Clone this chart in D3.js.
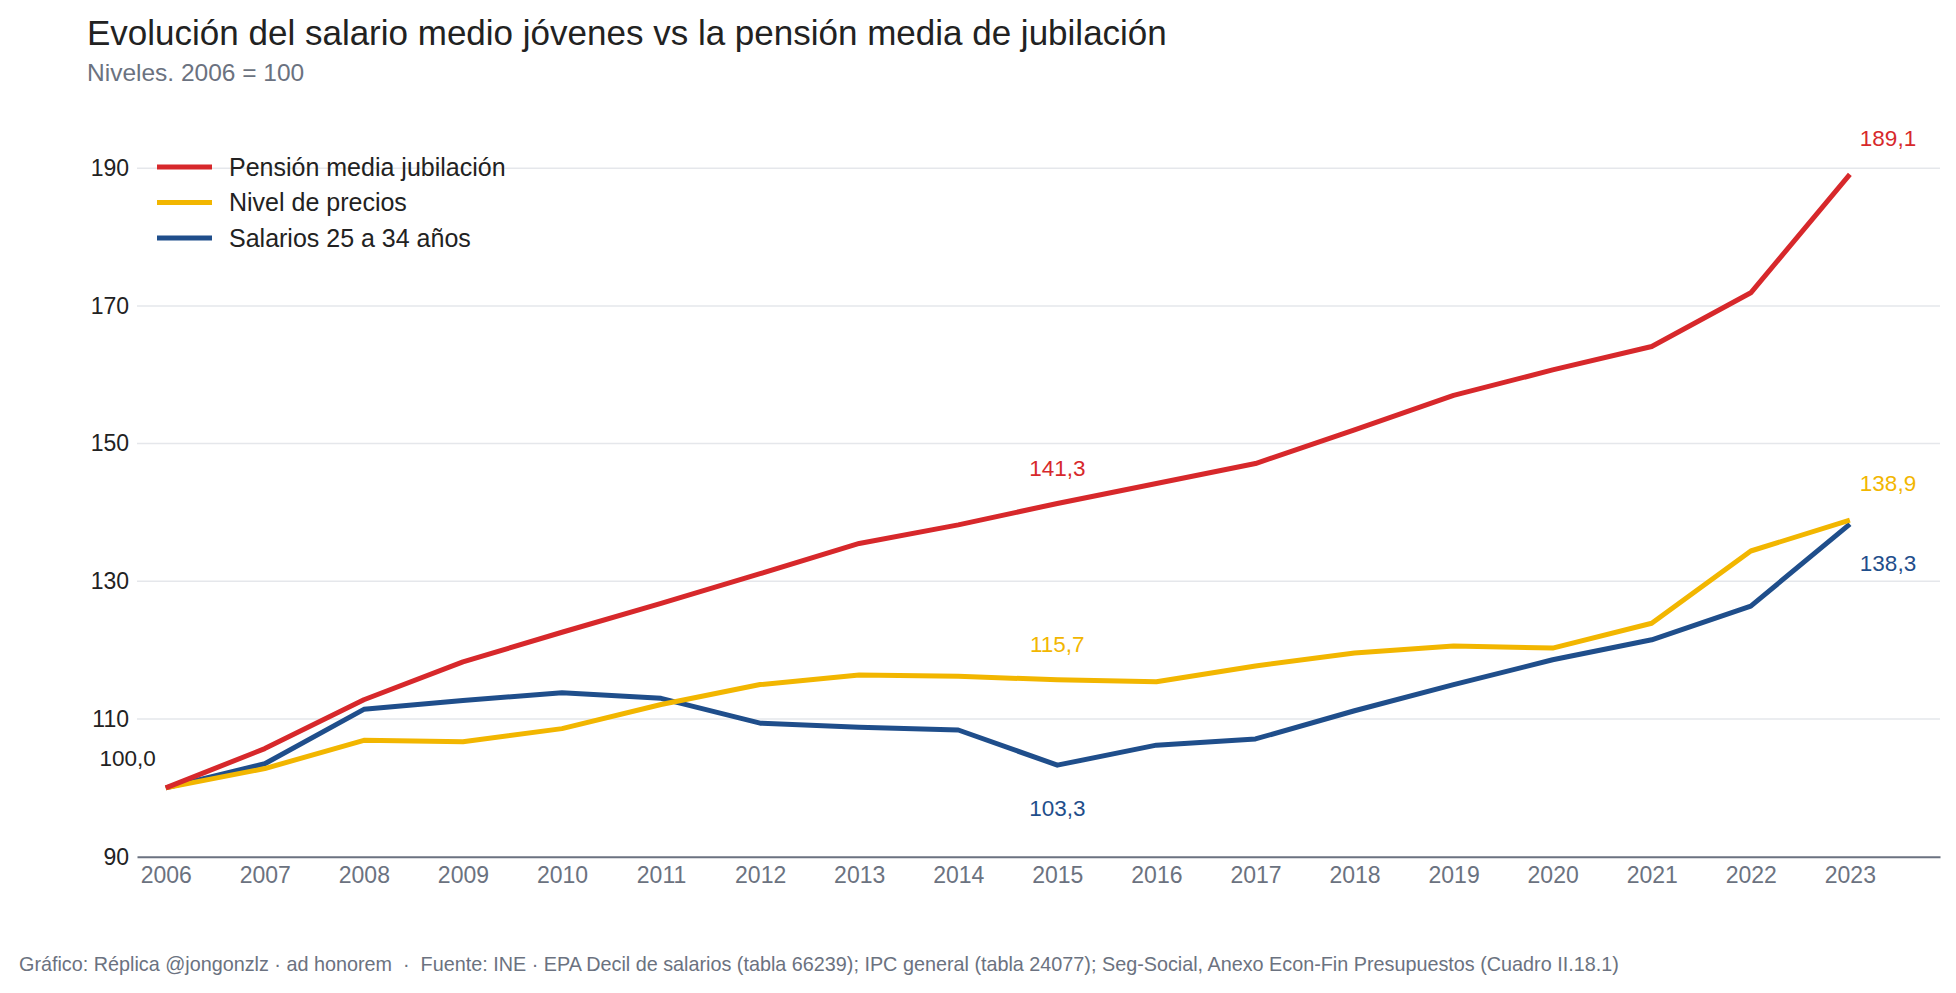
<!DOCTYPE html>
<html>
<head>
<meta charset="utf-8">
<script src="https://cdn.jsdelivr.net/npm/d3@7"></script>
<style>
  html, body { margin: 0; padding: 0; background: #fff; }
  svg { display: block; font-family: "Liberation Sans", Arial, sans-serif; }
</style>
</head>
<body>
<svg id="js-svg" width="1956" height="993"></svg>
<script>
const years = d3.range(2006, 2024);
const pension = [100, 105.7, 112.8, 118.3, 122.6, 126.8, 131.1, 135.5, 138.2, 141.3, 144.2, 147.1, 152.0, 157.0, 160.7, 164.1, 171.9, 189.1];
const precios = [100, 102.8, 106.9, 106.7, 108.6, 112.1, 115.0, 116.4, 116.2, 115.7, 115.4, 117.7, 119.6, 120.6, 120.3, 123.9, 134.4, 138.9];
const salarios = [100, 103.5, 111.4, 112.7, 113.8, 113.0, 109.4, 108.8, 108.4, 103.3, 106.2, 107.1, 111.2, 115.0, 118.6, 121.5, 126.4, 138.3];
const yTicks = [90, 110, 130, 150, 170, 190];

const seriesList = [
  { name: "Pensión media jubilación", values: pension, color: "#d7282b" },
  { name: "Nivel de precios", values: precios, color: "#f2b600" },
  { name: "Salarios 25 a 34 años", values: salarios, color: "#1f4e8b" },
];

const svg = d3.select("#js-svg");
const plotLeft = 137, plotRight = 1940, plotBottom = 856.7;

const x = d3.scaleLinear().domain([2005.71, 2023.91]).range([plotLeft, plotRight]);
const y = d3.scaleLinear().domain([90, 197]).range([plotBottom, plotBottom - 107 * 6.885]);

// title
svg.append("text").attr("x", 87).attr("y", 45)
  .attr("font-size", 35).attr("fill", "#222")
  .text("Evolución del salario medio jóvenes vs la pensión media de jubilación");
svg.append("text").attr("x", 87).attr("y", 81)
  .attr("font-size", 24.5).attr("fill", "#6b7280")
  .text("Niveles. 2006 = 100");

// grid
svg.append("g").selectAll("line").data(yTicks.slice(1)).join("line")
  .attr("x1", plotLeft).attr("x2", plotRight)
  .attr("y1", d => y(d)).attr("y2", d => y(d))
  .attr("stroke", "#e5e7eb").attr("stroke-width", 1.5);

// y axis
const yAxis = svg.append("g").attr("transform", `translate(${plotLeft},0)`)
  .call(d3.axisLeft(y).tickValues(yTicks).tickSize(0).tickPadding(8));
yAxis.select(".domain").remove();
yAxis.selectAll("text").attr("font-size", 23).attr("fill", "#222")
  .attr("font-family", "Liberation Sans, Arial, sans-serif");

// x axis
const xAxis = svg.append("g").attr("transform", `translate(0,${plotBottom})`)
  .call(d3.axisBottom(x).tickValues(years).tickFormat(d3.format("d")).tickSize(0).tickPadding(10));
xAxis.select(".domain").attr("stroke", "#6b7280").attr("stroke-width", 2);
xAxis.selectAll("text").attr("font-size", 23).attr("fill", "#6b7280")
  .attr("font-family", "Liberation Sans, Arial, sans-serif");

// lines
const line = d3.line().x((d, i) => x(years[i])).y(d => y(d));
svg.append("g").selectAll("path").data(seriesList.slice().reverse()).join("path")
  .attr("d", s => line(s.values))
  .attr("fill", "none")
  .attr("stroke", s => s.color)
  .attr("stroke-width", 5)
  .attr("stroke-linejoin", "round");

// legend
const legend = svg.append("g").selectAll("g").data(seriesList).join("g")
  .attr("transform", (d, i) => `translate(157,${167 + i * 35.5})`);
legend.append("line").attr("x1", 0).attr("x2", 55)
  .attr("stroke", d => d.color).attr("stroke-width", 5);
legend.append("text").attr("x", 72).attr("dy", "0.35em")
  .attr("font-size", 25).attr("fill", "#222").text(d => d.name);

// value labels
const fmt = v => d3.format(".1f")(v).replace(".", ",");
const labels = [
  { yr: 2006, v: pension[0], color: "#222", anchor: "end", dx: -10, dy: -22 },
  { yr: 2015, v: pension[9], color: "#d7282b", anchor: "middle", dx: 0, dy: -27 },
  { yr: 2015, v: precios[9], color: "#f2b600", anchor: "middle", dx: 0, dy: -28 },
  { yr: 2015, v: salarios[9], color: "#1f4e8b", anchor: "middle", dx: 0, dy: 51 },
  { yr: 2023, v: pension[17], color: "#d7282b", anchor: "start", dx: 10, dy: -28 },
  { yr: 2023, v: precios[17], color: "#f2b600", anchor: "start", dx: 10, dy: -29 },
  { yr: 2023, v: salarios[17], color: "#1f4e8b", anchor: "start", dx: 10, dy: 47 },
];
svg.append("g").selectAll("text").data(labels).join("text")
  .attr("x", d => x(d.yr) + d.dx)
  .attr("y", d => y(d.v) + d.dy)
  .attr("text-anchor", d => d.anchor)
  .attr("font-size", 22.5).attr("fill", d => d.color)
  .text(d => fmt(d.v));

// footer
svg.append("text").attr("x", 19).attr("y", 971)
  .attr("font-size", 19.8).attr("fill", "#6b7280")
  .style("white-space", "pre")
  .text("Gráfico: Réplica @jongonzlz · ad honorem  ·  Fuente: INE · EPA Decil de salarios (tabla 66239); IPC general (tabla 24077); Seg-Social, Anexo Econ-Fin Presupuestos (Cuadro II.18.1)");
</script>
</body>
</html>
